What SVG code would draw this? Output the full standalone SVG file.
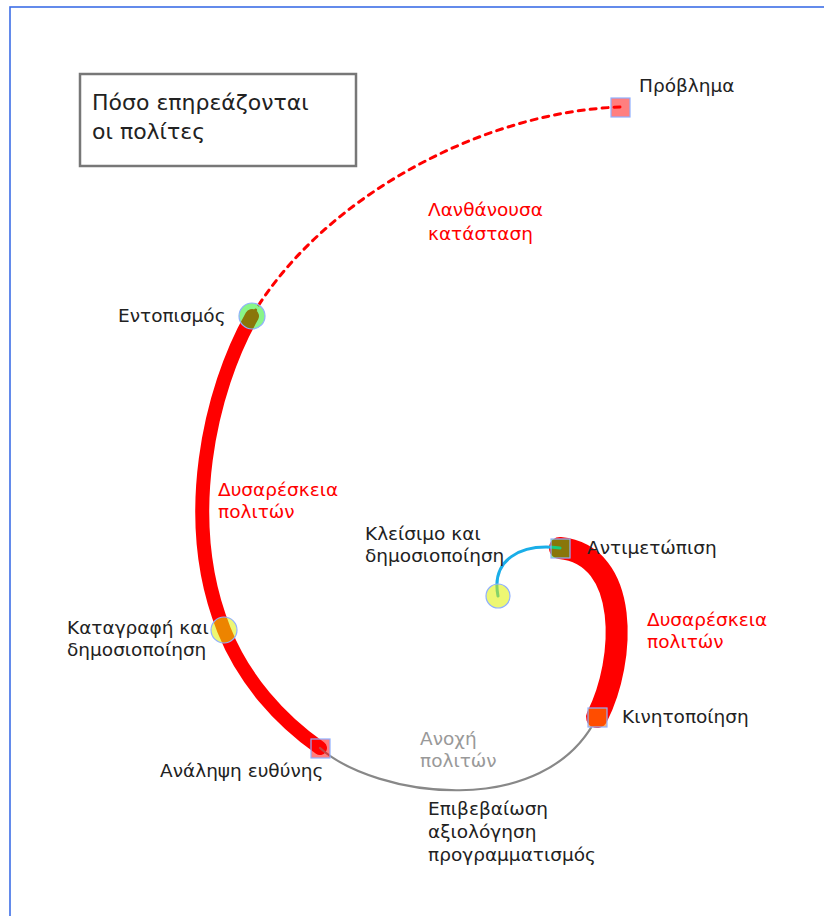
<svg xmlns="http://www.w3.org/2000/svg" width="824" height="916" viewBox="0 0 824 916">
<style>
text{font-family:"DejaVu Sans","Noto Sans",sans-serif;font-size:18.5px;fill:#222}
.red{fill:#ff0000}
.gray{fill:#999}
.title{font-size:22px}
.green{fill:rgba(20,235,20,0.5);stroke:#8fb0ff;stroke-width:1.2}
.yellow{fill:rgba(222,240,0,0.55);stroke:#8fb0ff;stroke-width:1.2}
.pink{fill:rgba(255,0,0,0.5);stroke:#8fb0ff;stroke-width:1.2}
.orange{fill:rgba(255,128,0,0.6);stroke:#8fb0ff;stroke-width:1.2}
</style>
<rect x="0" y="0" width="824" height="916" fill="#fff"/>
<rect x="10" y="7" width="840" height="940" fill="none" stroke="#3d6ee6" stroke-width="1.6"/>
<g id="title">
<rect x="80" y="74" width="276" height="92" fill="#fff" stroke="#777" stroke-width="2.5"/>
<text class="title" x="92" y="110">Πόσο επηρεάζονται</text>
<text class="title" x="92" y="139">οι πολίτες</text>
</g>
<g id="connectors" fill="none" stroke-linecap="round">
<path d="M620,107 C480,112 320,200 252,316" stroke="#ff0000" stroke-width="3" stroke-dasharray="6,6"/>
<path d="M252,316 C210,390 180,520 224,630 C244,680 280,720 320,748" stroke="#ff0000" stroke-width="14"/>
<path d="M320,748 C375,797 545,822 597,717" stroke="#888" stroke-width="2.2"/>
<path d="M597,717 C626,660 630,555 560,548" stroke="#ff0000" stroke-width="22"/>
<path d="M560,548 C520,543 491,560 498,596" stroke="#1aaee8" stroke-width="3"/>
</g>
<g id="problem">
<rect class="pink" x="611" y="98" width="19" height="19"/>
<text x="639" y="92">Πρόβλημα</text>
</g>
<g id="latent">
<text class="red" x="428" y="216">Λανθάνουσα</text>
<text class="red" x="428" y="240">κατάσταση</text>
</g>
<g id="detection">
<circle class="green" cx="252" cy="316" r="13"/>
<text x="118" y="322">Εντοπισμός</text>
</g>
<g id="dissatisfaction1">
<text class="red" x="218" y="496">Δυσαρέσκεια</text>
<text class="red" x="218" y="518">πολιτών</text>
</g>
<g id="recording">
<circle class="yellow" cx="224" cy="630" r="13"/>
<text x="67" y="634">Καταγραφή και</text>
<text x="67" y="656">δημοσιοποίηση</text>
</g>
<g id="responsibility">
<rect class="pink" x="311" y="739" width="19" height="19"/>
<text x="160" y="777">Ανάληψη ευθύνης</text>
</g>
<g id="tolerance">
<text class="gray" x="420" y="745">Ανοχή</text>
<text class="gray" x="420" y="767">πολιτών</text>
</g>
<g id="confirmation">
<text x="428" y="815">Επιβεβαίωση</text>
<text x="428" y="838">αξιολόγηση</text>
<text x="428" y="861">προγραμματισμός</text>
</g>
<g id="mobilization">
<rect class="orange" x="588" y="708" width="19" height="19"/>
<text x="622" y="723">Κινητοποίηση</text>
</g>
<g id="dissatisfaction2">
<text class="red" x="647" y="626">Δυσαρέσκεια</text>
<text class="red" x="647" y="648">πολιτών</text>
</g>
<g id="response">
<rect class="green" x="551" y="539" width="19" height="19"/>
<text x="587" y="554">Αντιμετώπιση</text>
</g>
<g id="closing">
<circle class="yellow" cx="498" cy="596" r="12"/>
<text x="365" y="540">Κλείσιμο και</text>
<text x="365" y="562">δημοσιοποίηση</text>
</g>
</svg>
